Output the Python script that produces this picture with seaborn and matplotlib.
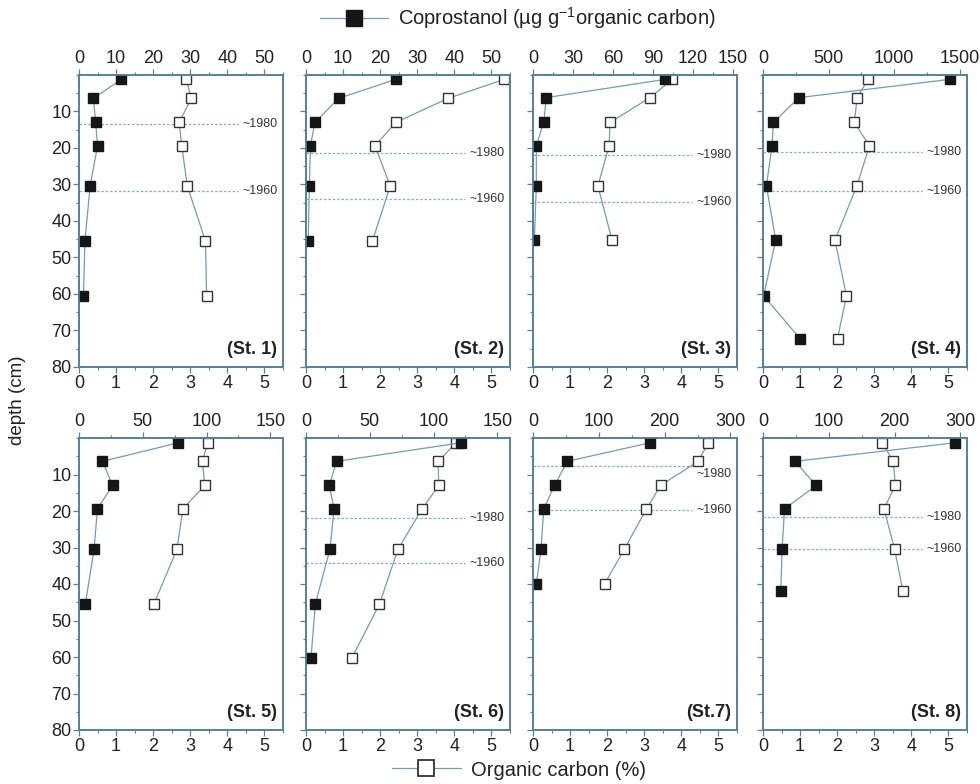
import matplotlib.pyplot as plt
import seaborn as sns
from matplotlib.lines import Line2D
from matplotlib.ticker import MultipleLocator

# depth (cm), coprostanol (ug/g OC), organic carbon (%) per station
depth_st1 = [1.2, 6.4, 13.0, 19.4, 30.4, 45.5, 60.5]
copro_st1 = [11.4, 3.9, 4.5, 5.0, 3.0, 1.6, 1.2]
oc_st1 = [2.89, 3.03, 2.70, 2.77, 2.92, 3.41, 3.44]

depth_st2 = [1.2, 6.4, 13.0, 19.4, 30.4, 45.5]
copro_st2 = [24.2, 8.8, 2.4, 1.2, 0.9, 0.6]
oc_st2 = [5.35, 3.83, 2.42, 1.86, 2.27, 1.79]

depth_st3 = [1.2, 6.2, 13.0, 19.4, 30.4, 45.2]
copro_st3 = [99, 10, 8, 2.5, 2.5, 1]
oc_st3 = [3.76, 3.15, 2.08, 2.05, 1.75, 2.13]

depth_st4 = [1.2, 6.2, 13.0, 19.4, 30.4, 45.2, 60.5, 72.2]
copro_st4 = [1423, 274, 79, 69, 26, 97, 5, 282]
oc_st4 = [2.83, 2.54, 2.46, 2.87, 2.53, 1.94, 2.25, 2.01]

depth_st5 = [1.3, 6.4, 13.0, 19.4, 30.5, 45.5]
copro_st5 = [78, 18.4, 26.3, 14.5, 11.8, 5]
oc_st5 = [3.47, 3.33, 3.39, 2.80, 2.64, 2.02]

depth_st6 = [1.3, 6.4, 13.0, 19.4, 30.5, 45.5, 60.4]
copro_st6 = [121.7, 24, 18.3, 22, 18.8, 7.3, 3.9]
oc_st6 = [4.05, 3.56, 3.58, 3.13, 2.48, 1.98, 1.23]

depth_st7 = [1.3, 6.4, 13.0, 19.4, 30.5, 40.0]
copro_st7 = [178, 52, 32.7, 16.3, 12.2, 5.1]
oc_st7 = [4.73, 4.45, 3.44, 3.06, 2.46, 1.93]

depth_st8 = [1.3, 6.4, 13.0, 19.4, 30.5, 41.9]
copro_st8 = [292, 48.5, 81, 32.7, 29, 27]
oc_st8 = [3.22, 3.51, 3.57, 3.26, 3.55, 3.77]

station_labels = ['(St. 1)', '(St. 2)', '(St. 3)', '(St. 4)',
                  '(St. 5)', '(St. 6)', '(St.7)', '(St. 8)']
# top axis range and major tick step for coprostanol
copro_max = [55, 55, 153, 1555, 160, 160, 310, 310]
copro_step = [10, 10, 30, 500, 50, 50, 100, 100]
# approximate dating horizons (depth of ~1980, ~1960)
dates_1980 = [13.5, 21.5, 21.8, 21.2, None, 21.9, 7.8, 21.6]
dates_1960 = [31.7, 34.1, 34.9, 31.9, None, 34.3, 19.6, 30.4]
label_1980 = [13.5, 21.5, 21.8, 21.2, None, 21.9, 9.9, 21.6]

depths = [depth_st1, depth_st2, depth_st3, depth_st4, depth_st5, depth_st6, depth_st7, depth_st8]
copros = [copro_st1, copro_st2, copro_st3, copro_st4, copro_st5, copro_st6, copro_st7, copro_st8]
ocs = [oc_st1, oc_st2, oc_st3, oc_st4, oc_st5, oc_st6, oc_st7, oc_st8]

line_col = '#6d9dc0'
spine_col = '#56809e'
dash_col = '#7fb0d2'
text_col = '#222222'

sns.set_style('ticks')
plt.rcParams['font.family'] = ['Liberation Sans', 'DejaVu Sans']
plt.rcParams['mathtext.default'] = 'regular'

W, H = 980, 784
fig = plt.figure(figsize=(W / 100, H / 100), dpi=100)

lefts = [79, 306, 533, 763]
tops = [75, 438]
pw, ph = 204, 292


def style_axis(ax):
    for sp in ax.spines.values():
        sp.set_color(spine_col)
        sp.set_linewidth(1.2)
    ax.tick_params(which='both', color=spine_col, labelcolor=text_col, labelsize=13, pad=1.5)
    ax.tick_params(which='major', length=4, width=0.9)
    ax.tick_params(which='minor', length=2.5, width=0.8)


for i in range(8):
    r, c = divmod(i, 4)
    ax = fig.add_axes([lefts[c] / W, 1 - (tops[r] + ph) / H, pw / W, ph / H])
    ax2 = ax.twiny()

    sns.lineplot(x=ocs[i], y=depths[i], sort=False, estimator=None, ax=ax,
                 color=line_col, lw=0.9, marker='s', markersize=7.5,
                 markerfacecolor='white', markeredgecolor='#333333', markeredgewidth=1.0,
                 legend=False)
    sns.lineplot(x=copros[i], y=depths[i], sort=False, estimator=None, ax=ax2,
                 color=line_col, lw=0.9, marker='s', markersize=7.5,
                 markerfacecolor='#161616', markeredgecolor='#161616', markeredgewidth=1.0,
                 legend=False)

    ax.set_xlim(0, 5.5)
    ax2.set_xlim(0, copro_max[i])
    ax.set_ylim(80, 0)
    ax.xaxis.set_major_locator(MultipleLocator(1))
    ax.xaxis.set_minor_locator(MultipleLocator(0.5))
    ax2.xaxis.set_major_locator(MultipleLocator(copro_step[i]))
    ax2.xaxis.set_minor_locator(MultipleLocator(copro_step[i] / 2))
    ax.set_yticks(range(10, 81, 10))
    ax.yaxis.set_minor_locator(MultipleLocator(5))
    if c != 0:
        ax.set_yticklabels([])
    ax.set_xlabel('')
    ax.set_ylabel('')
    ax2.set_xlabel('')
    style_axis(ax)
    style_axis(ax2)

    if dates_1980[i] is not None:
        for d, ly, txt in [(dates_1980[i], label_1980[i], '~1980'), (dates_1960[i], dates_1960[i], '~1960')]:
            ax.axhline(d, xmin=0, xmax=0.78, color=dash_col, lw=0.9, ls=(0, (2, 1.5)), zorder=0)
            ax.text(0.975, ly, txt, transform=ax.get_yaxis_transform(), ha='right', va='center',
                    fontsize=9, color='#333333')

    ax.text(0.97, 0.03, station_labels[i], transform=ax.transAxes, ha='right', va='bottom',
            fontsize=13, fontweight='bold', color=text_col)

fig.text(18 / W, 1 - 400 / H, 'depth (cm)', rotation=90, ha='center', va='center',
         fontsize=13.5, color=text_col)

h_copro = Line2D([], [], color=line_col, lw=0.9, marker='s', markersize=11,
                 markerfacecolor='#161616', markeredgecolor='#161616')
h_oc = Line2D([], [], color=line_col, lw=0.9, marker='s', markersize=11,
              markerfacecolor='white', markeredgecolor='#333333', markeredgewidth=1.3)
fig.legend(handles=[h_copro], labels=['Coprostanol (µg g$^{-1}$organic carbon)'],
           loc='center', bbox_to_anchor=(518 / W, 1 - 18 / H), frameon=False,
           fontsize=14.5, handlelength=3.4, handletextpad=0.5, labelcolor=text_col)
fig.legend(handles=[h_oc], labels=['Organic carbon (%)'],
           loc='center', bbox_to_anchor=(519 / W, 1 - 770 / H), frameon=False,
           fontsize=14.5, handlelength=3.4, handletextpad=0.5, labelcolor=text_col)

fig.savefig('out.png', dpi=100, facecolor='white')
